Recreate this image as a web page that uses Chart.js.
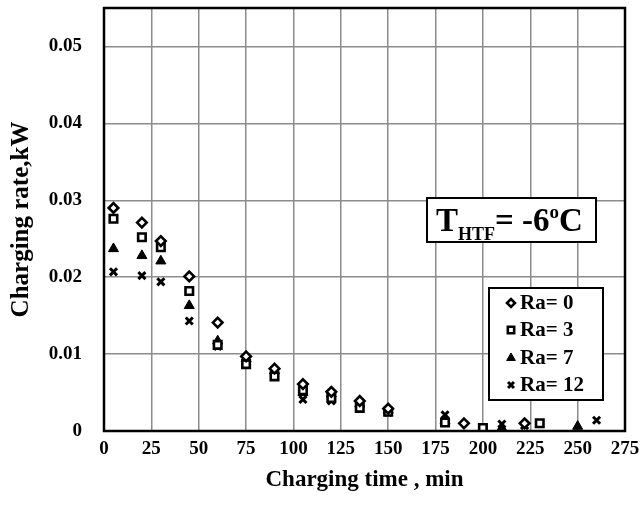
<!DOCTYPE html>
<html lang="en">
<head>
    <meta charset="UTF-8">
    <title>Charging rate</title>
    <script src="https://cdn.jsdelivr.net/npm/chart.js@4.4.1/dist/chart.umd.min.js"></script>
    <style>
        html, body { margin: 0; padding: 0; background: #fff; }
        .wrap { position: relative; width: 644px; height: 509px; }
    </style>
</head>
<body>
    <div class="wrap">
        <canvas id="myChart" width="644" height="509"></canvas>
    </div>

    <script>
        // charging time (min) and charging rate (kW) for each Rayleigh number
        const timeRa0 = [5, 20, 30, 45, 60, 75, 90, 105, 120, 135, 150, 190, 222];
        const rateRa0 = [0.029, 0.0271, 0.0247, 0.0201, 0.0141, 0.0097, 0.0081, 0.0061, 0.0051, 0.0039, 0.0029, 0.001, 0.001];

        const timeRa3 = [5, 20, 30, 45, 60, 75, 90, 105, 120, 135, 150, 180, 200, 230];
        const rateRa3 = [0.0276, 0.0252, 0.0239, 0.0182, 0.0112, 0.0087, 0.0071, 0.0053, 0.0043, 0.003, 0.0025, 0.0011, 0.0004, 0.001];

        const timeRa7 = [5, 20, 30, 45, 60, 75, 90, 105, 120, 135, 150, 180, 210, 250];
        const rateRa7 = [0.0237, 0.0228, 0.0221, 0.0163, 0.0117, 0.0094, 0.0078, 0.005, 0.0048, 0.0035, 0.0027, 0.0013, 0.0004, 0.0006];

        const timeRa12 = [5, 20, 30, 45, 60, 75, 90, 105, 120, 135, 150, 180, 210, 222, 260];
        const rateRa12 = [0.0207, 0.0202, 0.0194, 0.0143, 0.011, 0.0088, 0.0073, 0.0041, 0.0039, 0.003, 0.0024, 0.0021, 0.0009, 0.0007, 0.0014];

        const seriesLabels = ['Ra= 0', 'Ra= 3', 'Ra= 7', 'Ra= 12'];
        const xTicks = [0, 25, 50, 75, 100, 125, 150, 175, 200, 225, 250, 275];
        const yTicks = [0, 0.01, 0.02, 0.03, 0.04, 0.05];

        const serif = '"Liberation Serif", "Times New Roman", serif';

        function toPoints(xs, ys){
            return xs.map(function (x, i){ return {x: x, y: ys[i]}; });
        }

        // frame round the plot area
        const frame = {
            id: 'frame',
            afterDatasetsDraw(chart){
                const a = chart.chartArea;
                const c = chart.ctx;
                c.save();
                c.strokeStyle = '#000';
                c.lineWidth = 2.5;
                c.strokeRect(a.left, a.top, a.right - a.left, a.bottom - a.top);
                c.restore();
            }
        };

        // boxed legend and temperature note inside the plot
        const boxes = {
            id: 'boxes',
            afterDraw(chart){
                const c = chart.ctx;
                c.save();

                // temperature note
                c.fillStyle = '#fff';
                c.fillRect(427, 198, 169, 44);
                c.strokeStyle = '#000';
                c.lineWidth = 2;
                c.strokeRect(427, 198, 169, 44);
                c.fillStyle = '#000';
                c.textBaseline = 'alphabetic';
                c.textAlign = 'left';
                c.font = 'bold 33px ' + serif;
                c.fillText('T', 436, 231);
                let x = 436 + c.measureText('T').width;
                c.font = 'bold 18px ' + serif;
                c.fillText('HTF', x, 240);
                x += c.measureText('HTF').width;
                c.font = 'bold 33px ' + serif;
                c.fillText('= -6', x, 231);
                x += c.measureText('= -6').width;
                c.font = 'bold 19px ' + serif;
                c.fillText('o', x, 218);
                x += c.measureText('o').width;
                c.font = 'bold 33px ' + serif;
                c.fillText('C', x, 231);

                // legend
                c.fillStyle = '#fff';
                c.fillRect(489, 288, 114, 112);
                c.strokeRect(489, 288, 114, 112);
                c.font = 'bold 21px ' + serif;
                c.textBaseline = 'middle';
                const rows = [303, 330, 358, 385];
                chart.data.datasets.forEach(function (ds, i){
                    c.lineWidth = ds.pointBorderWidth;
                    c.fillStyle = ds.pointBackgroundColor;
                    c.strokeStyle = ds.pointBorderColor;
                    Chart.helpers.drawPoint(c, {
                        pointStyle: ds.pointStyle,
                        radius: ds.pointRadius - 0.8,
                        borderWidth: ds.pointBorderWidth
                    }, 511, rows[i]);
                    c.fillStyle = '#000';
                    c.fillText(ds.label, 520, rows[i] + 1);
                });
                c.restore();
            }
        };

        const ctx = document.getElementById('myChart');
        const myChart = new Chart(ctx, {
            type: 'scatter',
            data: {
                datasets: [{
                    label: seriesLabels[0],
                    data: toPoints(timeRa0, rateRa0),
                    pointStyle: 'rectRot',
                    pointRadius: 4.8,
                    pointBorderWidth: 2.6,
                    pointBackgroundColor: '#fff',
                    pointBorderColor: '#000'
                },{
                    label: seriesLabels[1],
                    data: toPoints(timeRa3, rateRa3),
                    pointStyle: 'rect',
                    pointRadius: 5.3,
                    pointBorderWidth: 2.6,
                    pointBackgroundColor: '#fff',
                    pointBorderColor: '#000'
                },{
                    label: seriesLabels[2],
                    data: toPoints(timeRa7, rateRa7),
                    pointStyle: 'triangle',
                    pointRadius: 5.8,
                    pointBorderWidth: 1,
                    pointBackgroundColor: '#000',
                    pointBorderColor: '#000'
                },{
                    label: seriesLabels[3],
                    data: toPoints(timeRa12, rateRa12),
                    pointStyle: 'crossRot',
                    pointRadius: 5,
                    pointBorderWidth: 3,
                    pointBackgroundColor: '#000',
                    pointBorderColor: '#000'
                }]
            },
            options: {
                responsive: false,
                animation: false,
                layout: {
                    padding: {left: 0, right: 19, top: 8, bottom: 0}
                },
                plugins: {
                    legend: {display: false},
                    tooltip: {enabled: false}
                },
                scales: {
                    x: {
                        type: 'linear',
                        min: 0,
                        max: 275,
                        afterBuildTicks: function (scale){
                            scale.ticks = xTicks.map(function (v){ return {value: v}; });
                        },
                        afterFit: function (scale){
                            scale.height = 78;
                            scale.paddingLeft = 0;
                            scale.paddingRight = 0;
                        },
                        grid: {
                            color: '#8c8c8c',
                            lineWidth: 1.5,
                            drawTicks: false
                        },
                        border: {display: false},
                        ticks: {
                            color: '#000',
                            padding: 7,
                            maxRotation: 0,
                            autoSkip: false,
                            font: {family: serif, size: 19, weight: 'bold'}
                        },
                        title: {
                            display: true,
                            text: 'Charging time , min',
                            color: '#000',
                            padding: {top: 0, bottom: 15},
                            font: {family: serif, size: 23, weight: 'bold'}
                        }
                    },
                    y: {
                        type: 'linear',
                        min: 0,
                        max: 0.055,
                        afterBuildTicks: function (scale){
                            scale.ticks = yTicks.map(function (v){ return {value: v}; });
                        },
                        afterFit: function (scale){
                            scale.width = 104;
                            scale.paddingTop = 0;
                            scale.paddingBottom = 0;
                        },
                        grid: {
                            color: '#8c8c8c',
                            lineWidth: 1.5,
                            drawTicks: false
                        },
                        border: {display: false},
                        ticks: {
                            color: '#000',
                            padding: 22,
                            autoSkip: false,
                            font: {family: serif, size: 19, weight: 'bold'},
                            callback: function (v){ return v === 0 ? '0' : v.toFixed(2); }
                        },
                        title: {
                            display: true,
                            text: 'Charging rate,kW',
                            color: '#000',
                            padding: {top: 7, bottom: 0},
                            font: {family: serif, size: 25, weight: 'bold'}
                        }
                    }
                }
            },
            plugins: [frame, boxes]
        });
    </script>
</body>
</html>
